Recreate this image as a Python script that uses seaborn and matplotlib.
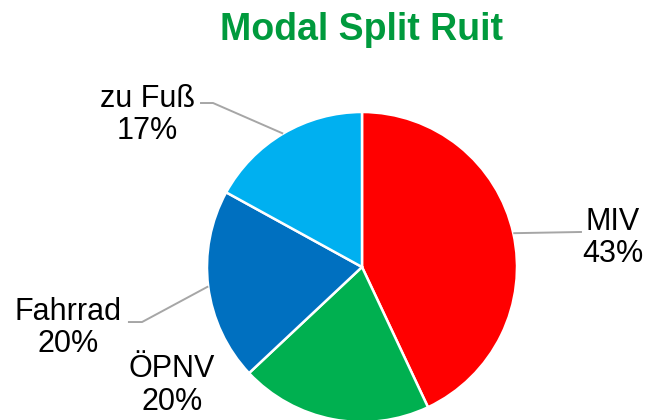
import numpy as np
import matplotlib
matplotlib.use('Agg')
import matplotlib.pyplot as plt
import seaborn as sns

labels = ['MIV', 'ÖPNV', 'Fahrrad', 'zu Fuß']
shares = [43, 20, 20, 17]
colors = ['#FF0000', '#00B050', '#0070C0', '#00B0F0']

sns.set_theme(style="white")
plt.rcParams['font.family'] = ['Liberation Sans', 'DejaVu Sans']

fig = plt.figure(figsize=(6.5, 4.2), dpi=100)
ax = fig.add_axes([0, 0, 1, 1])

wedges, _ = ax.pie(
    shares,
    colors=colors,
    startangle=90,
    counterclock=False,
    radius=1,
    wedgeprops=dict(edgecolor='white', linewidth=1.8),
)

# one pie radius = 155 px, centre at (362, 267) px
ax.set_xlim(-362 / 155, (650 - 362) / 155)
ax.set_ylim(-(420 - 267) / 155, 267 / 155)
ax.set_aspect('equal')
ax.axis('off')

# label positions (data units) and leader line elbows
text_pos = {
    'MIV': (1.62, 0.187),
    'ÖPNV': (-1.226, -0.765),
    'Fahrrad': (-1.897, -0.394),
    'zu Fuß': (-1.387, 0.981),
}
leader = {
    'MIV': [(1.419, 0.226)],
    'Fahrrad': [(-1.419, -0.355), (-1.51, -0.355)],
    'zu Fuß': [(-0.961, 1.058), (-1.045, 1.058)],
}

for w, lab, val in zip(wedges, labels, shares):
    mid = np.deg2rad((w.theta1 + w.theta2) / 2)
    if lab in leader:
        pts = [(np.cos(mid), np.sin(mid))] + leader[lab]
        xs, ys = zip(*pts)
        ax.plot(xs, ys, color='#A6A6A6', lw=1.4, solid_capstyle='butt')
    x, y = text_pos[lab]
    ax.text(x, y, f'{lab}\n{val}%', ha='center', va='center',
            fontsize=22, color='black', linespacing=1.1)

fig.text(362 / 650, 1 - 30 / 420, 'Modal Split Ruit', ha='center', va='center',
         fontsize=27, fontweight='bold', color='#009A3D')

fig.savefig('out.png', dpi=100, facecolor='white')
